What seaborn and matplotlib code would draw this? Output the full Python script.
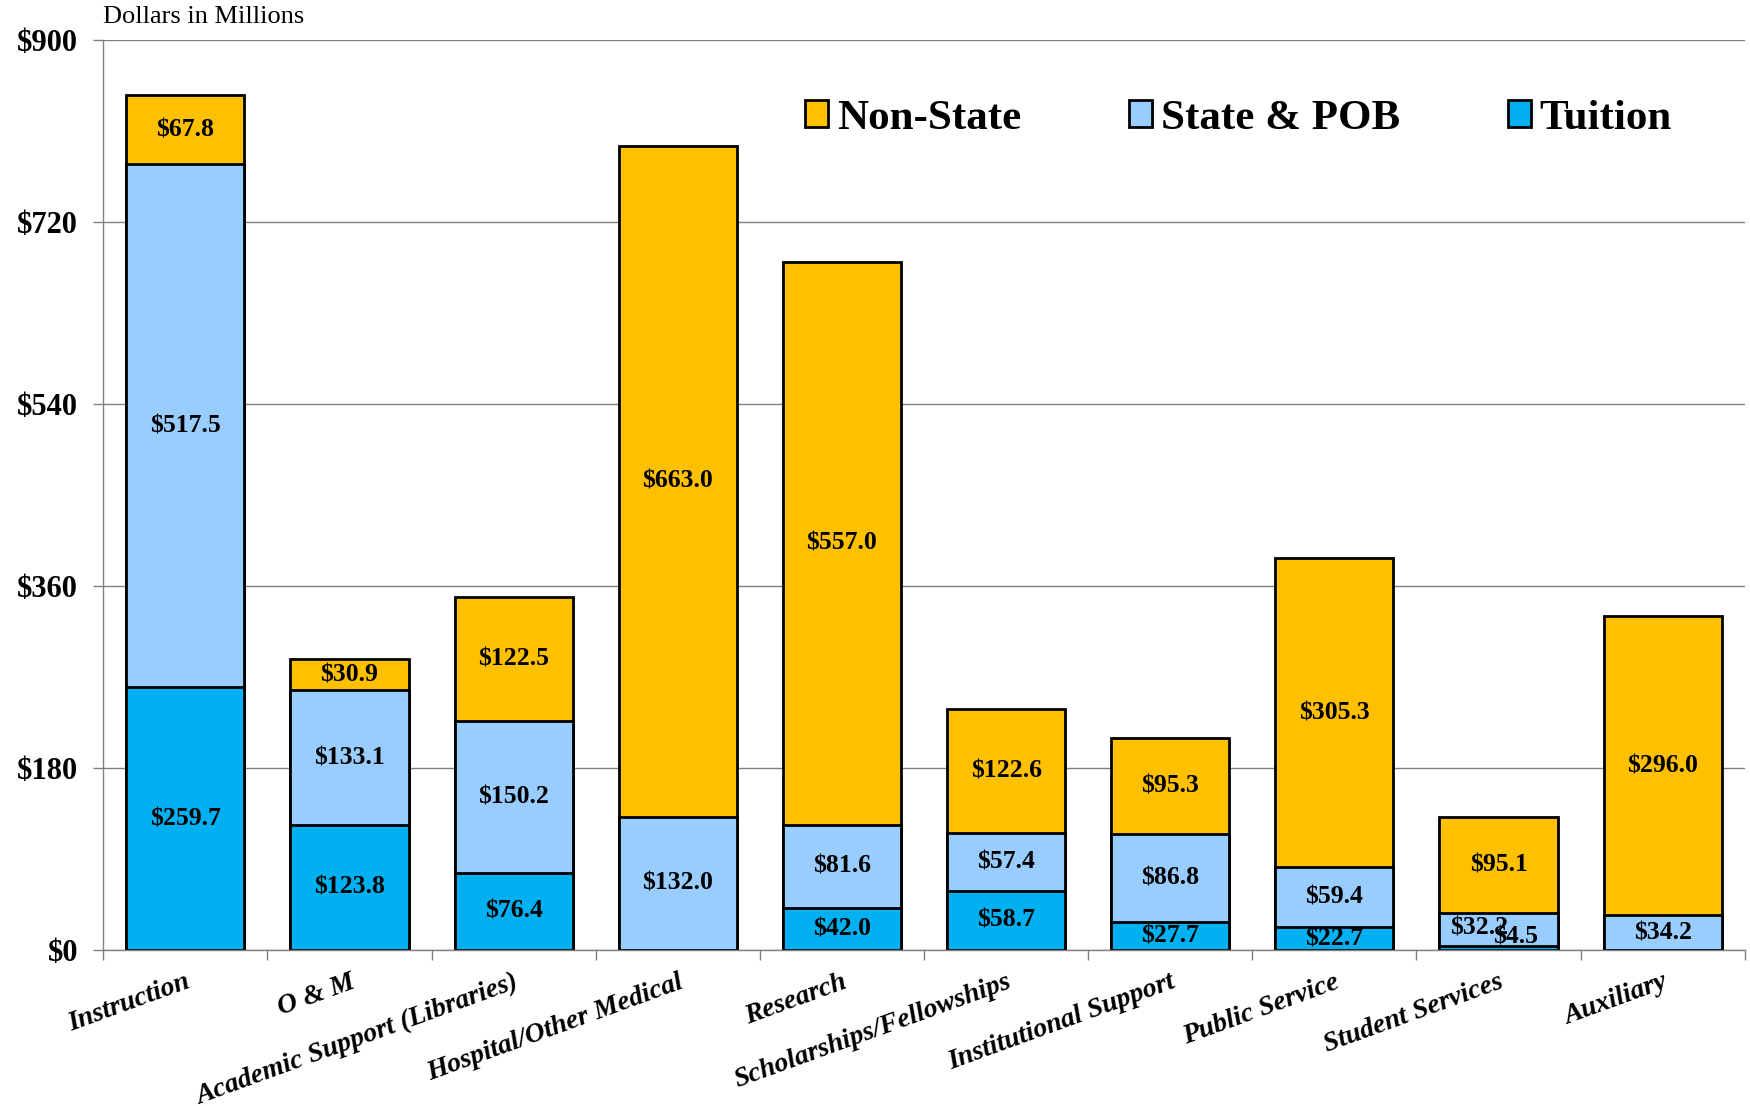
"""
Stacked expenditure bars by function: Tuition / State & POB / Non-State.
Saves out.png (1750x1106).
"""

import numpy as np
import matplotlib.pyplot as plt
import matplotlib.patches as mpatches
import seaborn as sns

# ─────────────────────────────────────────
# DATA (dollars in millions)
# ─────────────────────────────────────────

categories = [
    "Instruction",
    "O & M",
    "Academic Support (Libraries)",
    "Hospital/Other Medical",
    "Research",
    "Scholarships/Fellowships",
    "Institutional Support",
    "Public Service",
    "Student Services",
    "Auxiliary",
]

tuition   = np.array([259.7, 123.8, 76.4, 0.0, 42.0, 58.7, 27.7, 22.7, 4.5, 0.0])
state_pob = np.array([517.5, 133.1, 150.2, 132.0, 81.6, 57.4, 86.8, 59.4, 32.2, 34.2])
non_state = np.array([67.8, 30.9, 122.5, 663.0, 557.0, 122.6, 95.3, 305.3, 95.1, 296.0])

y_ticks = [0, 180, 360, 540, 720, 900]

COLORS = {
    "Non-State":   "#FFC000",
    "State & POB": "#99CCFF",
    "Tuition":     "#00B0F0",
}

sns.set_theme(style="white")
plt.rcParams.update({
    "font.family": ["Liberation Serif", "DejaVu Serif"],
    "text.color":  "black",
    "xtick.color": "black",
    "ytick.color": "black",
})

fig = plt.figure(figsize=(17.5, 11.06), dpi=100)
ax = fig.add_axes([0.059, 0.141, 0.938, 0.823])

# ─────────────────────────────────────────
# BARS (cumulative, drawn back to front)
# ─────────────────────────────────────────

layers = [
    ("Non-State",   tuition + state_pob + non_state),
    ("State & POB", tuition + state_pob),
    ("Tuition",     tuition),
]
for name, heights in layers:
    sns.barplot(x=categories, y=heights, color=COLORS[name], saturation=1,
                width=0.72, edgecolor="black", linewidth=2, ax=ax)

# segment labels
segments = [
    (tuition,   np.zeros_like(tuition)),
    (state_pob, tuition),
    (non_state, tuition + state_pob),
]
# Student Services small segments are nudged apart like in the original
nudges = {(8, 0): (12, 8), (8, 1): (-14, 1)}
for s, (vals, base) in enumerate(segments):
    for i, v in enumerate(vals):
        if v <= 0:
            continue
        ax.annotate(f"${v:.1f}", (i, base[i] + v / 2),
                    xytext=nudges.get((i, s), (0, 0)), textcoords="offset points",
                    ha="center", va="center", fontsize=18.5, fontweight="bold",
                    color="black")

# ─────────────────────────────────────────
# AXES
# ─────────────────────────────────────────

ax.set_ylim(0, 900)
ax.set_xlim(-0.5, len(categories) - 0.5)
ax.set_yticks(y_ticks)
ax.set_yticklabels([f"${t}" for t in y_ticks], fontsize=22, fontweight="bold")
ax.tick_params(axis="y", length=7, width=1, color="#808080", labelcolor="black",
               direction="out", pad=11, left=True)

ax.set_xticks(range(len(categories)))
ax.set_xticklabels(categories, rotation=20, ha="right", rotation_mode="anchor",
                   fontsize=20, fontweight="bold", fontstyle="italic")
ax.tick_params(axis="x", which="major", length=0, pad=14, labelcolor="black")
ax.set_xticks(np.arange(-0.5, len(categories), 1), minor=True)
ax.tick_params(axis="x", which="minor", length=7, width=1, color="#808080",
               direction="out", bottom=True)

ax.yaxis.grid(True, color="#808080", linewidth=1)
ax.xaxis.grid(False)
ax.set_axisbelow(True)
ax.set_xlabel("")
ax.set_ylabel("")
for side in ["top", "right"]:
    ax.spines[side].set_visible(False)
for side in ["left", "bottom"]:
    ax.spines[side].set_color("#808080")
    ax.spines[side].set_linewidth(1)

fig.text(103 / 1750, 1 - 17 / 1106, "Dollars in Millions", fontsize=19,
         va="center", color="black")

# legend
handles = [
    mpatches.Patch(facecolor=COLORS[n], edgecolor="black", linewidth=2, label=n)
    for n in ["Non-State", "State & POB", "Tuition"]
]
fig.legend(handles=handles, loc="center left", ncol=3, frameon=False,
           bbox_to_anchor=(805 / 1750, 1 - 119 / 1106), bbox_transform=fig.transFigure,
           prop={"size": 31, "weight": "bold"}, handlelength=0.54, handleheight=0.6,
           handletextpad=0.2, columnspacing=2.5, borderpad=0, borderaxespad=0,
           labelcolor="black")

plt.savefig("out.png", dpi=100)
plt.close()
